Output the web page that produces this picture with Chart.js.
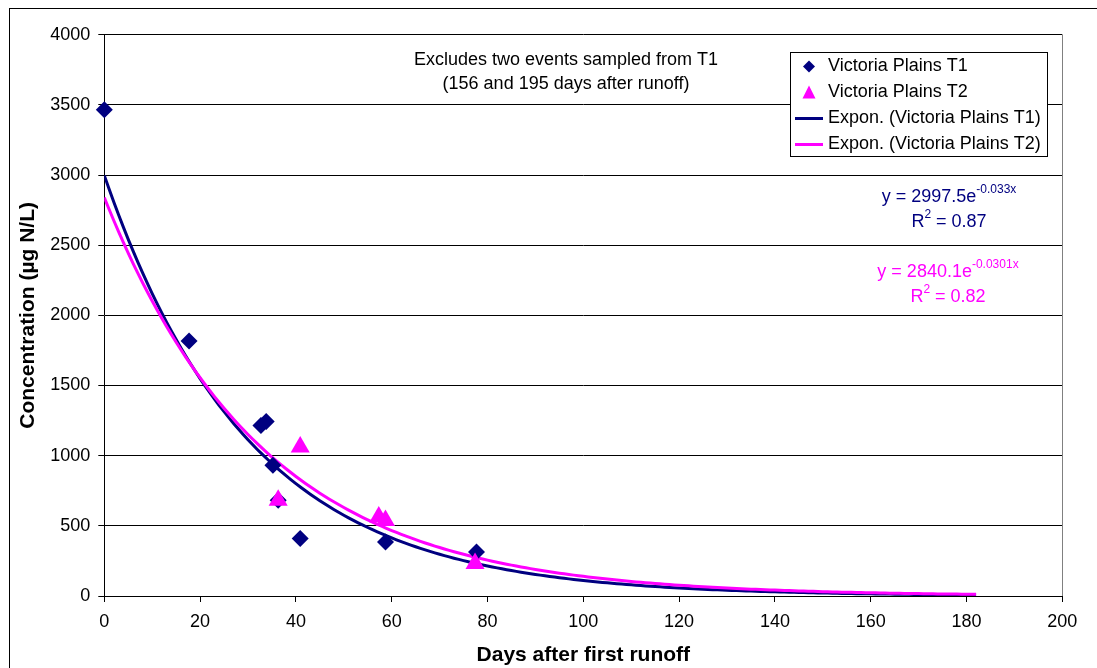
<!DOCTYPE html>
<html><head><meta charset="utf-8">
<script src="https://cdn.jsdelivr.net/npm/chart.js@4.4.0/dist/chart.umd.min.js"></script>
<style>html,body{margin:0;padding:0;background:#fff;} #c{display:block;}</style>
</head><body>
<canvas id="c" width="1097" height="668"></canvas>
<script>
// ---- data ----
const t1Days = [0, 17.7, 32.7, 33.8, 35.2, 36.3, 40.9, 58.7, 77.7];
const t1Conc = [3465, 1818, 1215, 1244, 932, 682, 409, 385, 314];
const t2Days = [36.3, 40.9, 57.3, 58.7, 77.4];
const t2Conc = [682, 1062, 563, 538, 231];
// exponential trendlines as printed on the chart: y = a * e^(k x)
const trendT1 = {a: 2997.5, k: -0.033, r2: '0.87', sup: '-0.033x'};
const trendT2 = {a: 2840.1, k: -0.0301, r2: '0.82', sup: '-0.0301x'};
const trendStartDay = 0, trendEndDay = 182;
const xMin = 0, xMax = 200, xStep = 20;
const yMin = 0, yMax = 4000, yStep = 500;
const labels = ['Victoria Plains T1', 'Victoria Plains T2', 'Expon. (Victoria Plains T1)', 'Expon. (Victoria Plains T2)'];
const note = ['Excludes two events sampled from T1', '(156 and 195 days after runoff)'];
const xTitle = 'Days after first runoff';
const yTitle = 'Concentration (\u00b5g N/L)';

const NAVY = '#000080', MAGENTA = '#FF00FF';
const FAM = '"Liberation Sans", Arial, sans-serif';

function pts(xs, ys) { return xs.map((x, i) => ({x: x, y: ys[i]})); }
function trend(t) {
  const out = [];
  for (let x = trendStartDay; x <= trendEndDay; x += 1) out.push({x: x, y: t.a * Math.exp(t.k * x)});
  return out;
}

Chart.defaults.font.family = FAM;
Chart.defaults.color = '#000';

const deco = {
  id: 'deco',
  beforeDraw(chart) {
    const c = chart.ctx;
    c.save(); c.fillStyle = '#fff'; c.fillRect(0, 0, chart.width, chart.height); c.restore();
  },
  afterDraw(chart) {
    const c = chart.ctx, a = chart.chartArea;
    c.save();
    // outer frame
    c.strokeStyle = '#000'; c.lineWidth = 1;
    c.strokeRect(9.5, 8.5, 1300, 1300);
    // plot right border
    c.strokeStyle = '#808080';
    c.beginPath(); c.moveTo(Math.round(a.right) + 0.5, a.top); c.lineTo(Math.round(a.right) + 0.5, a.bottom); c.stroke();

    // note text
    c.fillStyle = '#000'; c.font = '18px ' + FAM; c.textAlign = 'center'; c.textBaseline = 'middle';
    c.fillText(note[0], 566, 60);
    c.fillText(note[1], 566, 84);

    // equations
    function eq(t, color, cx, y1, y2) {
      c.fillStyle = color; c.textAlign = 'left'; c.textBaseline = 'middle';
      const main = 'y = ' + t.a.toFixed(1) + 'e';
      c.font = '18px ' + FAM; const wm = c.measureText(main).width;
      c.font = '12px ' + FAM; const ws = c.measureText(t.sup).width;
      let x = cx - (wm + ws) / 2;
      c.font = '18px ' + FAM; c.fillText(main, x, y1);
      c.font = '12px ' + FAM; c.fillText(t.sup, x + wm, y1 - 7);
      c.font = '18px ' + FAM; const wr = c.measureText('R').width;
      const rest = ' = ' + t.r2; const wrest = c.measureText(rest).width;
      c.font = '12px ' + FAM; const w2 = c.measureText('2').width;
      x = cx - (wr + w2 + wrest) / 2;
      c.font = '18px ' + FAM; c.fillText('R', x, y2);
      c.font = '12px ' + FAM; c.fillText('2', x + wr, y2 - 7);
      c.font = '18px ' + FAM; c.fillText(rest, x + wr + w2, y2);
    }
    eq(trendT1, NAVY, 949, 197, 222);
    eq(trendT2, MAGENTA, 948, 272, 297);

    // legend box
    const L = 790.5, T = 52.5, R = 1047.5, B = 156.5;
    c.fillStyle = '#fff'; c.fillRect(L, T, R - L, B - T);
    c.strokeStyle = '#000'; c.lineWidth = 1; c.strokeRect(L, T, R - L, B - T);
    const rows = [66.5, 92.5, 118.5, 144.5];
    const mx = 809;
    // diamond
    c.fillStyle = NAVY; c.beginPath();
    c.moveTo(mx, rows[0] - 6); c.lineTo(mx + 6, rows[0]); c.lineTo(mx, rows[0] + 6); c.lineTo(mx - 6, rows[0]); c.closePath(); c.fill();
    // triangle
    c.fillStyle = MAGENTA; c.beginPath();
    c.moveTo(mx, rows[1] - 7); c.lineTo(mx + 6.5, rows[1] + 6); c.lineTo(mx - 6.5, rows[1] + 6); c.closePath(); c.fill();
    // lines
    c.lineWidth = 3;
    c.strokeStyle = NAVY; c.beginPath(); c.moveTo(795, rows[2]); c.lineTo(823, rows[2]); c.stroke();
    c.strokeStyle = MAGENTA; c.beginPath(); c.moveTo(795, rows[3]); c.lineTo(823, rows[3]); c.stroke();
    c.fillStyle = '#000'; c.font = '18px ' + FAM; c.textAlign = 'left'; c.textBaseline = 'middle';
    labels.forEach((s, i) => c.fillText(s, 828, rows[i]));
    c.restore();
  }
};

new Chart(document.getElementById('c'), {
  type: 'scatter',
  data: {
    datasets: [
      {label: labels[0], data: pts(t1Days, t1Conc), pointStyle: 'rectRot', pointRadius: 8.5,
       backgroundColor: NAVY, borderColor: NAVY, borderWidth: 0, order: 1, clip: false},
      {label: labels[1], data: pts(t2Days, t2Conc), pointStyle: 'triangle', pointRadius: 11,
       backgroundColor: MAGENTA, borderColor: MAGENTA, borderWidth: 0, order: 0, clip: false},
      {label: labels[2], type: 'line', data: trend(trendT1), borderColor: NAVY, borderWidth: 3,
       pointRadius: 0, fill: false, tension: 0, order: 3},
      {label: labels[3], type: 'line', data: trend(trendT2), borderColor: MAGENTA, borderWidth: 3,
       pointRadius: 0, fill: false, tension: 0, order: 2}
    ]
  },
  options: {
    responsive: false, animation: false, devicePixelRatio: 1,
    layout: {padding: {left: 0, right: 34.7, top: 34.7, bottom: 0}},
    plugins: {legend: {display: false}, tooltip: {enabled: false}},
    scales: {
      x: {
        type: 'linear', min: xMin, max: xMax,
        ticks: {stepSize: xStep, padding: 9, font: {size: 18}, color: '#000', maxRotation: 0,
                callback: v => String(v)},
        grid: {drawOnChartArea: false, drawTicks: true, tickLength: 6, color: '#000'},
        border: {color: '#000', width: 1},
        title: {display: true, text: xTitle, font: {size: 21, weight: 'bold'}, color: '#000', padding: {top: 0, bottom: 0.4}},
        afterFit: s => { s.height = 72; }
      },
      y: {
        type: 'linear', min: yMin, max: yMax,
        ticks: {stepSize: yStep, padding: 8, font: {size: 18}, color: '#000',
                callback: v => String(v)},
        grid: {drawTicks: true, tickLength: 6, color: '#000'},
        border: {color: '#000', width: 1},
        title: {display: true, text: yTitle, font: {size: 21, weight: 'bold'}, color: '#000', padding: {top: 15.7, bottom: 0}},
        afterFit: s => { s.width = 104.3; }
      }
    }
  },
  plugins: [deco]
});
</script>
</body></html>
